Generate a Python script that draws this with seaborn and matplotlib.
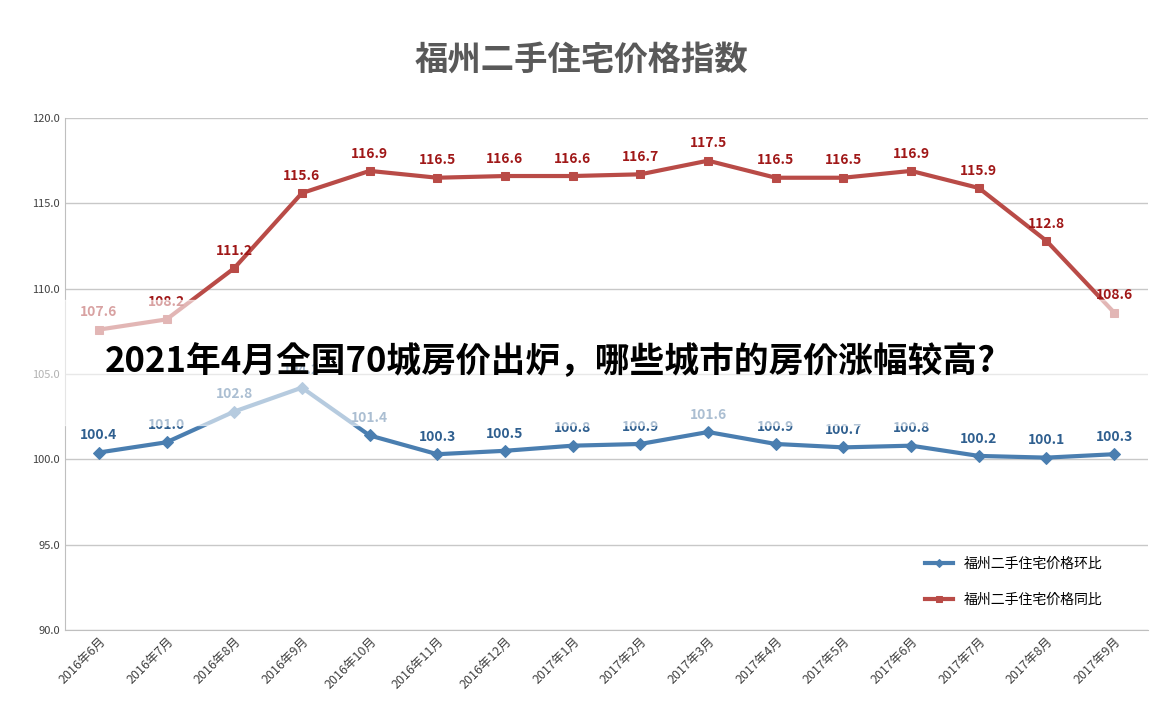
import matplotlib
matplotlib.use("Agg")
import matplotlib.pyplot as plt
from matplotlib import font_manager as fm
import seaborn as sns
import pandas as pd
from matplotlib.patches import Rectangle

cjk = [f.name for f in fm.fontManager.ttflist if "CJK" in f.name]
fam = "Noto Sans CJK SC" if "Noto Sans CJK SC" in cjk else (cjk[0] if cjk else "DejaVu Sans")
plt.rcParams["font.family"] = [fam, "DejaVu Sans"]

months = ["2016年6月","2016年7月","2016年8月","2016年9月","2016年10月","2016年11月","2016年12月",
          "2017年1月","2017年2月","2017年3月","2017年4月","2017年5月","2017年6月","2017年7月",
          "2017年8月","2017年9月"]
mom = [100.4,101.0,102.8,104.2,101.4,100.3,100.5,100.8,100.9,101.6,100.9,100.7,100.8,100.2,100.1,100.3]
yoy = [107.6,108.2,111.2,115.6,116.9,116.5,116.6,116.6,116.7,117.5,116.5,116.5,116.9,115.9,112.8,108.6]
mom_name = "福州二手住宅价格环比"
yoy_name = "福州二手住宅价格同比"

blue = "#4A7EB0"; red = "#B94B47"
fig = plt.figure(figsize=(11.64, 7.28), dpi=100)
ax = fig.add_axes([65/1164, 1-630/728, (1148-65)/1164, (630-118)/728])
x = list(range(len(months)))
df = pd.DataFrame({"x": x, "mom": mom, "yoy": yoy})
sns.lineplot(data=df, x="x", y="mom", ax=ax, color=blue, lw=3, marker="D", markersize=6,
             markeredgecolor=blue, label=mom_name)
sns.lineplot(data=df, x="x", y="yoy", ax=ax, color=red, lw=3, marker="s", markersize=6,
             markeredgecolor=red, label=yoy_name)
for i in x:
    ax.text(i, mom[i] + 0.6, f"{mom[i]:.1f}", color="#2F5F8F", fontsize=10, fontweight="bold", ha="center", va="bottom")
    ax.text(i, yoy[i] + 0.6, f"{yoy[i]:.1f}", color="#A01818", fontsize=10, fontweight="bold", ha="center", va="bottom")
ax.set_ylim(90, 120)
ax.set_xlim(-0.5, len(months) - 0.5)
ax.set_yticks([90,95,100,105,110,115,120])
ax.set_yticklabels([f"{v:.1f}" for v in [90,95,100,105,110,115,120]], fontsize=8, color="#404040")
ax.set_xticks(x)
ax.set_xticklabels(months, rotation=45, ha="right", rotation_mode="anchor", fontsize=9, color="#404040")
ax.grid(axis="y", color="#C8C8C8", lw=1)
ax.set_axisbelow(True)
for s in ["top", "right"]:
    ax.spines[s].set_visible(False)
ax.spines["left"].set_color("#BFBFBF"); ax.spines["bottom"].set_color("#BFBFBF")
ax.tick_params(length=0)
ax.set_xlabel(""); ax.set_ylabel("")
ax.legend(loc="lower right", bbox_to_anchor=(0.97, 0.02), frameon=False, fontsize=10,
          labelspacing=1.6, handlelength=2.0, markerscale=0.7)
fig.text(0.5, 1-60/728, "福州二手住宅价格指数", ha="center", va="center", fontsize=24,
         fontweight="bold", color="#595959")
fig.patches.append(Rectangle((0, 1-425/728), 1, 125/728, transform=fig.transFigure,
                             color="white", alpha=0.6, zorder=5))
fig.text(105/1164, 1-362/728, "2021年4月全国70城房价出炉，哪些城市的房价涨幅较高?", ha="left",
         va="center", fontsize=25, fontweight="bold", color="black", zorder=6)
fig.savefig("out.png", dpi=100)
